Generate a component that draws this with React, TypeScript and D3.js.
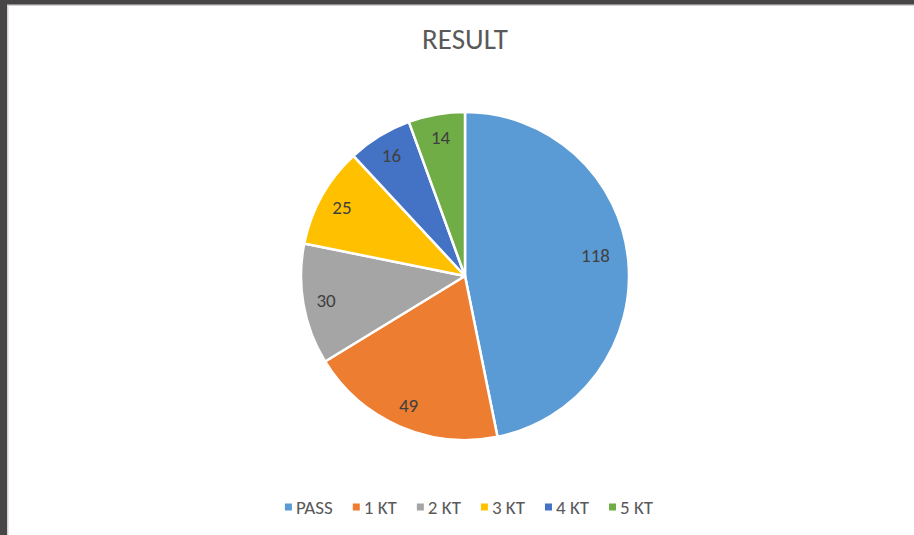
import React, { useEffect, useRef } from 'react'
import * as d3 from 'd3'

const categories = ['PASS', '1 KT', '2 KT', '3 KT', '4 KT', '5 KT']
const counts = [118, 49, 30, 25, 16, 14]
const colours = ['#5B9BD5', '#ED7D31', '#A5A5A5', '#FFC000', '#4472C4', '#70AD47']

const W = 914
const H = 535
const FONT = "Carlito, Calibri, 'Open Sans', sans-serif"

export default function App() {
  const ref = useRef<SVGSVGElement>(null)

  useEffect(() => {
    const svg = d3.select(ref.current)
    svg.selectAll('*').remove()

    // window frame
    svg.append('rect').attr('width', W).attr('height', H).attr('fill', '#474546')
    svg.append('rect').attr('x', 7).attr('y', 4.5).attr('width', W - 7).attr('height', H - 4.5).attr('fill', '#d4d4d4')
    svg.append('rect').attr('x', 8.5).attr('y', 6).attr('width', W - 8.5).attr('height', H - 6).attr('fill', '#fff')

    svg.append('text')
      .attr('x', 465).attr('y', 49)
      .attr('text-anchor', 'middle')
      .attr('font-family', FONT)
      .attr('font-size', 29)
      .attr('fill', '#595959')
      .text('RESULT')

    const cx = 465, cy = 276, r = 164
    const data = categories.map((c, i) => ({ name: c, value: counts[i], i }))
    const pie = d3.pie<any>().value(d => d.value).sort(null)
    const arcs = pie(data)
    const arc = d3.arc<any>().innerRadius(0).outerRadius(r)
    const labelArc = d3.arc<any>().innerRadius(r * 0.86).outerRadius(r * 0.86)

    const g = svg.append('g').attr('transform', `translate(${cx},${cy})`)
    g.selectAll('path').data(arcs).join('path')
      .attr('d', arc)
      .attr('fill', d => colours[d.data.i])
      .attr('stroke', '#fff')
      .attr('stroke-width', 2.5)
      .attr('stroke-linejoin', 'round')

    g.selectAll('text.lbl').data(arcs).join('text')
      .attr('class', 'lbl')
      .attr('transform', d => {
        const [x, y] = labelArc.centroid(d)
        // keep wide labels inside the slice
        const k = d.data.value > 100 ? 0.93 : 1
        return `translate(${x * k},${y * k - (d.data.value > 100 ? 8 : 0)})`
      })
      .attr('text-anchor', 'middle')
      .attr('dy', '0.35em')
      .attr('font-family', FONT)
      .attr('font-size', 19)
      .attr('fill', '#404040')
      .text(d => d.data.value)

    // legend
    const leg = svg.append('g')
    const items = leg.selectAll('g').data(data).join('g')
    items.append('rect')
      .attr('width', 7).attr('height', 7)
      .attr('y', -3.5)
      .attr('fill', d => colours[d.i])
    items.append('text')
      .attr('x', 11)
      .attr('dy', '0.35em')
      .attr('font-family', FONT)
      .attr('font-size', 19)
      .attr('fill', '#595959')
      .text(d => d.name)
    let x = 0
    const gap = 20
    items.each(function () {
      const t = d3.select(this).select('text').node() as SVGTextElement
      const w = 11 + t.getComputedTextLength()
      d3.select(this).attr('transform', `translate(${x},0)`)
      x += w + gap
    })
    const total = x - gap
    leg.attr('transform', `translate(${469 - total / 2},507)`)
  }, [])

  return (
    <svg ref={ref} width={W} height={H}
      style={{ position: 'fixed', left: 0, top: 0, display: 'block' }} />
  )
}
